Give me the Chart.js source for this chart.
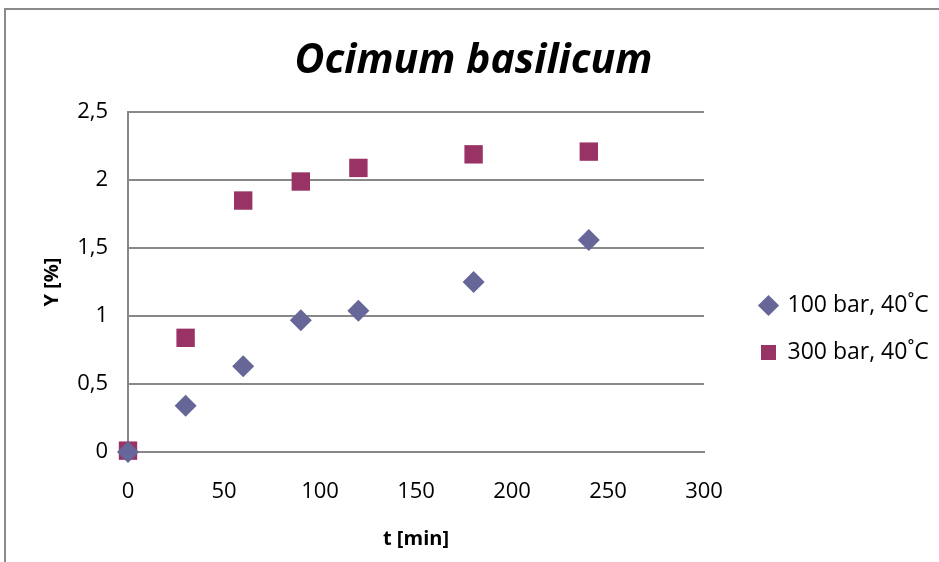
<!DOCTYPE html>
<html lang="en">
<head>
  <meta charset="UTF-8">
  <title>Ocimum basilicum</title>
  <script src="https://cdn.jsdelivr.net/npm/chart.js"></script>
  <style>
    html, body { margin: 0; padding: 0; background: #fff; }
    #wrap { width: 939px; height: 562px; }
  </style>
</head>
<body>
  <div id="wrap"><canvas id="chart" width="939" height="562"></canvas></div>

  <script>
    // time points (min) and yields (%)
    const times = [0, 30, 60, 90, 120, 180, 240];
    const yield100 = [0, 0.34, 0.63, 0.97, 1.04, 1.25, 1.56];
    const yield300 = [0.01, 0.84, 1.85, 1.99, 2.09, 2.19, 2.21];
    const seriesNames = ['100 bar, 40˚C', '300 bar, 40˚C'];

    const FONT = '"Open Sans", Lato, sans-serif';
    const GRID = '#888888';

    function toPoints(ys) {
      return times.map(function(t, i) { return { x: t, y: ys[i] }; });
    }

    // outer chart frame (cropped on right and bottom like the original)
    const framePlugin = {
      id: 'frame',
      beforeDraw: function(chart) {
        const ctx = chart.ctx;
        ctx.save();
        ctx.strokeStyle = '#8a8a8a';
        ctx.lineWidth = 2;
        ctx.beginPath();
        ctx.moveTo(5, 562);
        ctx.lineTo(5, 9);
        ctx.lineTo(939, 9);
        ctx.stroke();
        ctx.restore();
      }
    };

    // nudge legend and title to where Excel put them
    const nudge = {
      id: 'nudge',
      afterLayout: function(chart) {
        const lg = chart.legend;
        lg.left += 33;
        lg.right = chart.width;   // legend clips to its box, so let it reach the edge
        lg.top += 43; lg.bottom += 43;
        const tb = chart.titleBlock;
        tb.left += 25; tb.right += 25;
      }
    };

    new Chart(document.getElementById('chart'), {
      type: 'scatter',
      data: {
        datasets: [{
          label: seriesNames[0],
          data: toPoints(yield100),
          pointStyle: 'rectRot',
          pointRadius: 11,
          pointHoverRadius: 11,
          backgroundColor: '#666699',
          borderColor: '#666699',
          borderWidth: 0,
          clip: false
        }, {
          label: seriesNames[1],
          data: toPoints(yield300),
          pointStyle: 'rect',
          pointRadius: 13,
          pointHoverRadius: 13,
          backgroundColor: '#993366',
          borderColor: '#993366',
          borderWidth: 0,
          clip: false
        }]
      },
      plugins: [framePlugin, nudge],
      options: {
        responsive: false,
        animation: false,
        layout: { padding: { left: 10, top: 10, right: 52, bottom: 0 } },
        plugins: {
          title: {
            display: true,
            text: 'Ocimum basilicum',
            color: '#000',
            font: { family: FONT, size: 41, weight: 'bold', style: 'italic' },
            padding: { top: 27, bottom: 26 }
          },
          legend: {
            position: 'right',
            maxWidth: 183,
            labels: {
              usePointStyle: true,
              boxWidth: 15,
              boxHeight: 15,
              padding: 24,
              color: '#000',
              font: { family: FONT, size: 23 }
            }
          },
          tooltip: { enabled: false }
        },
        scales: {
          x: {
            type: 'linear',
            min: 0,
            max: 300,
            ticks: {
              stepSize: 50,
              color: '#000',
              padding: 27,
              font: { family: FONT, size: 22 }
            },
            grid: { display: false, drawTicks: false },
            border: { display: true, color: GRID, width: 2 },
            title: {
              display: true,
              text: 't [min]',
              color: '#000',
              font: { family: FONT, size: 20, weight: 'bold' },
              padding: { top: 8, bottom: 11 }
            },
            afterFit: function(scale) { scale.height = 110; }
          },
          y: {
            min: 0,
            max: 2.5,
            ticks: {
              stepSize: 0.5,
              color: '#000',
              padding: 20,
              font: { family: FONT, size: 22 },
              callback: function(v) { return String(v).replace('.', ','); }
            },
            grid: { color: GRID, lineWidth: 2, drawTicks: false },
            border: { display: true, color: GRID, width: 2 },
            title: {
              display: true,
              text: 'Y [%]',
              color: '#000',
              font: { family: FONT, size: 20, weight: 'bold' },
              padding: { top: 30, bottom: 10 }
            },
            afterFit: function(scale) { scale.width = 118; }
          }
        }
      }
    });
  </script>
</body>
</html>
